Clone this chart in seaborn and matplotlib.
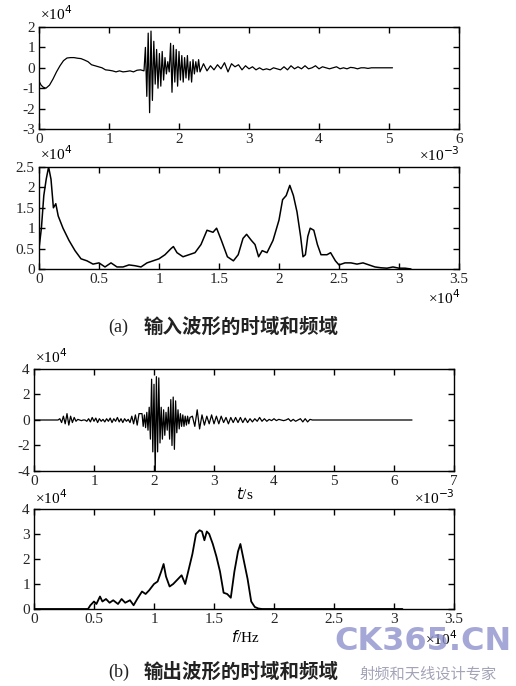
import numpy as np
import matplotlib
matplotlib.use("Agg")
import matplotlib.pyplot as plt
import seaborn as sns
from matplotlib.ticker import FuncFormatter

# ---- input waveform, time domain (x in 1e-3 s, y in 1e4) ----
in_t_head = [0.00, 0.03, 0.06, 0.10, 0.15, 0.20, 0.25, 0.30, 0.35, 0.40, 0.45, 0.50,
             0.55, 0.60, 0.65, 0.70, 0.75, 0.80, 0.85, 0.90, 0.95, 1.00, 1.05, 1.10,
             1.15, 1.20, 1.25, 1.30, 1.35, 1.40, 1.45, 1.50]
in_y_head = [-0.65, -0.85, -0.95, -1.0, -0.85, -0.55, -0.2, 0.1, 0.35, 0.48, 0.5, 0.5,
             0.47, 0.45, 0.38, 0.3, 0.15, 0.1, 0.05, 0.0, -0.1, -0.12, -0.15, -0.2,
             -0.15, -0.2, -0.18, -0.15, -0.2, -0.12, -0.1, -0.15]
in_burst_start, in_burst_step = 1.52, 0.02
in_y_burst = [1.0, -1.4, 1.7, -2.2, 1.8, -1.6, 1.3, -0.8, 0.9, -1.0, 0.7, -0.9, 0.8, -0.6,
              0.5, -0.3, 0.3, -0.2, 1.2, -1.2, 1.1, -0.7, 0.9, -0.9, 0.8, -0.6, 0.6, -0.7,
              0.5, -0.5, 0.6, -0.6, 0.3, -0.7, 0.4, -0.3, 0.3, -0.2, 0.4, -0.2]
in_tail_start, in_tail_step = 2.35, 0.05
in_y_tail = [0.2, -0.15, 0.1, -0.1, 0.15, -0.05, 0.25, -0.2, 0.2, 0.05, 0.15, -0.1, 0.1,
             -0.05, 0.05, -0.1, 0.0, -0.1, -0.05, -0.1, 0.0, -0.05, -0.1, 0.05, -0.1, 0.1,
             -0.05, 0.05, -0.05, 0.1, -0.05, 0.0, 0.1, -0.05, 0.05, 0.0, -0.05, 0.0, 0.05,
             -0.05, 0.0, -0.05, 0.02, 0.0, -0.05, 0.0, 0.0, -0.03, 0.0, 0.0, 0.0, 0.0, 0.0,
             0.0, 0.0]

# ---- input waveform, spectrum (x in 1e4 Hz, y in 1e4) ----
in_f = [0.0, 0.02, 0.04, 0.06, 0.08, 0.10, 0.12, 0.14, 0.16, 0.20, 0.25, 0.30, 0.35,
        0.40, 0.45, 0.50, 0.55, 0.60, 0.65, 0.70, 0.75, 0.80, 0.85, 0.90, 0.95, 1.00,
        1.05, 1.10, 1.12, 1.15, 1.20, 1.25, 1.30, 1.35, 1.40, 1.45, 1.48, 1.52, 1.57,
        1.62, 1.66, 1.70, 1.73, 1.77, 1.80, 1.83, 1.86, 1.90, 1.95, 2.00, 2.03, 2.06,
        2.09, 2.12, 2.15, 2.18, 2.20, 2.22, 2.24, 2.26, 2.29, 2.32, 2.35, 2.40, 2.43,
        2.47, 2.50, 2.55, 2.60, 2.65, 2.70, 2.75, 2.80, 2.85, 2.90, 2.95, 3.00, 3.05, 3.10]
in_mag = [0.5, 1.0, 1.8, 2.2, 2.5, 2.2, 1.5, 1.6, 1.3, 1.0, 0.7, 0.45, 0.25,
          0.2, 0.12, 0.15, 0.05, 0.15, 0.05, 0.05, 0.1, 0.08, 0.05, 0.15, 0.2, 0.25,
          0.35, 0.5, 0.55, 0.4, 0.3, 0.35, 0.4, 0.6, 0.95, 0.9, 1.0, 0.7, 0.3,
          0.2, 0.35, 0.75, 0.85, 0.7, 0.6, 0.3, 0.45, 0.4, 0.7, 1.2, 1.7, 1.8,
          2.05, 1.8, 1.4, 0.8, 0.3, 0.35, 0.8, 1.0, 0.95, 0.6, 0.35, 0.35, 0.4,
          0.2, 0.1, 0.15, 0.15, 0.12, 0.15, 0.1, 0.05, 0.03, 0.02, 0.05, 0.02, 0.02, 0.0]

# ---- output waveform, time domain ----
out_t_head = [0.0, 0.4]
out_y_head = [0.0, 0.0]
out_small_start, out_small_step = 0.43, 0.03
out_y_small = [0.1, -0.2, 0.3, -0.3, 0.5, -0.4, 0.3, -0.2, 0.2, -0.1, 0.05, 0.0, -0.05,
               0.0, 0.0, -0.1, 0.1, -0.15, 0.2, -0.1, 0.15, -0.2, 0.1, -0.1, 0.05, -0.15,
               0.1, -0.1, 0.15, -0.2, 0.1, -0.1, 0.2, -0.15, 0.1, -0.2, 0.1, -0.1, 0.05,
               -0.2, 0.3, -0.3, 0.4, -0.4, 0.5]
out_burst_start, out_burst_step = 1.8, 0.02
out_y_burst = [0.5, -0.5, 0.4, -0.6, 0.6, -0.8, 1.0, -1.5, 3.2, -2.5, 2.8, -4.2, 3.4, -2.5,
               3.3, -1.8, 1.0, -1.5, 0.8, -1.2, 0.6, -0.8, 1.0, -1.5, 1.6, -2.0, 1.8, -2.3,
               1.5, -1.0, 0.8, -0.7, 0.5, -0.5, 0.4, -0.5, 0.3, -0.4, 0.3, -0.3, 0.2]
out_tail_start, out_tail_step = 2.64, 0.04
out_y_tail = [0.3, -0.5, 0.8, -0.7, 0.4, -0.4, 0.3, -0.3, 0.4, -0.3, 0.3, -0.3, 0.3, -0.2,
              0.2, -0.3, 0.2, -0.2, 0.2, -0.2, 0.2, -0.2, 0.15, -0.2, 0.1, -0.15, 0.1, -0.1,
              0.2, -0.1, 0.1, -0.1, 0.05, -0.05, 0.1, -0.05, 0.05, 0.0, -0.05, 0.0, 0.1,
              -0.1, 0.05, -0.1, 0.0, 0.1, -0.15, 0.1, -0.15, 0.05, 0.0, 0.0, 0.0]
out_t_end = [6.3]
out_y_end = [0.0]

# ---- output waveform, spectrum ----
out_f = [0.0, 0.45, 0.47, 0.50, 0.52, 0.55, 0.57, 0.60, 0.63, 0.66, 0.70, 0.73, 0.76,
         0.80, 0.83, 0.86, 0.90, 0.93, 0.96, 1.00, 1.03, 1.06, 1.08, 1.10, 1.13, 1.16,
         1.20, 1.23, 1.26, 1.29, 1.32, 1.35, 1.38, 1.40, 1.42, 1.44, 1.46, 1.49, 1.52,
         1.55, 1.58, 1.61, 1.64, 1.67, 1.70, 1.72, 1.75, 1.78, 1.81, 1.84, 1.87, 1.90,
         2.50, 3.07]
out_mag = [0.0, 0.0, 0.15, 0.3, 0.2, 0.5, 0.3, 0.4, 0.25, 0.35, 0.2, 0.4, 0.25,
           0.35, 0.15, 0.4, 0.7, 0.6, 0.75, 1.0, 1.1, 1.5, 1.8, 1.3, 0.9, 1.0,
           1.2, 1.35, 1.0, 1.6, 2.2, 3.0, 3.15, 3.1, 2.75, 3.1, 3.0, 2.6, 2.1,
           1.5, 0.65, 0.6, 0.45, 1.5, 2.3, 2.6, 1.9, 1.2, 0.3, 0.08, 0.02, 0.0,
           0.0, 0.0]


def seg(start, step, ys):
    return [start + step * i for i in range(len(ys))]


in_t = in_t_head + seg(in_burst_start, in_burst_step, in_y_burst) + seg(in_tail_start, in_tail_step, in_y_tail)
in_y = in_y_head + in_y_burst + in_y_tail
out_t = (out_t_head + seg(out_small_start, out_small_step, out_y_small)
         + seg(out_burst_start, out_burst_step, out_y_burst)
         + seg(out_tail_start, out_tail_step, out_y_tail) + out_t_end)
out_y = out_y_head + out_y_small + out_y_burst + out_y_tail + out_y_end

sns.set_style("ticks")
plt.rcParams["font.family"] = ["Liberation Serif", "Noto Sans CJK SC"]
plt.rcParams["xtick.direction"] = "in"
plt.rcParams["ytick.direction"] = "in"

W, H = 516, 686
fig = plt.figure(figsize=(W / 100, H / 100), dpi=100)


def ax_at(left, top, right, bottom):
    return fig.add_axes([left / W, 1 - bottom / H, (right - left) / W, (bottom - top) / H])


fmt = FuncFormatter(lambda v, p: f"{v:g}")
TS = 11


def style(ax, xlim, xticks, ylim, yticks):
    ax.set_xlim(*xlim)
    ax.set_ylim(*ylim)
    ax.set_xticks(xticks)
    ax.set_yticks(yticks)
    ax.xaxis.set_major_formatter(fmt)
    ax.yaxis.set_major_formatter(fmt)
    ax.tick_params(top=True, right=True, length=4, width=1, labelsize=TS, color="black")
    ax.tick_params(axis="x", pad=3)
    ax.tick_params(axis="y", pad=3)
    for s in ax.spines.values():
        s.set_visible(True)
        s.set_linewidth(1.0)
        s.set_color("black")
    ax.set_xlabel("")
    ax.set_ylabel("")


lw = 0.9
ax1 = ax_at(39, 27, 459, 129)
sns.lineplot(x=in_t, y=in_y, ax=ax1, color="black", linewidth=lw, sort=False, estimator=None)
style(ax1, (0, 6), [0, 1, 2, 3, 4, 5, 6], (-3, 2), [-3, -2, -1, 0, 1, 2])

ax2 = ax_at(39, 167, 459, 269)
sns.lineplot(x=in_f, y=in_mag, ax=ax2, color="black", linewidth=1.1, sort=False, estimator=None)
style(ax2, (0, 3.5), [0, 0.5, 1, 1.5, 2, 2.5, 3, 3.5], (0, 2.5), [0, 0.5, 1, 1.5, 2, 2.5])

ax3 = ax_at(34, 369, 454, 471)
sns.lineplot(x=out_t, y=out_y, ax=ax3, color="black", linewidth=lw, sort=False, estimator=None)
style(ax3, (0, 7), [0, 1, 2, 3, 4, 5, 6, 7], (-4, 4), [-4, -2, 0, 2, 4])

ax4 = ax_at(34, 509, 454, 609)
sns.lineplot(x=out_f, y=out_mag, ax=ax4, color="black", linewidth=1.3, sort=False, estimator=None)
style(ax4, (0, 3.5), [0, 0.5, 1, 1.5, 2, 2.5, 3, 3.5], (0, 4), [0, 1, 2, 3, 4])


def ftext(x, y, s, **kw):
    fig.text(x / W, 1 - y / H, s, **kw)


exp_kw = dict(fontsize=TS, color="black", va="center")
ftext(40, 14, "×10$^{4}$", ha="left", **exp_kw)
ftext(460, 155, "×10$^{-3}$", ha="right", **exp_kw)
ftext(40, 154, "×10$^{4}$", ha="left", **exp_kw)
ftext(460, 298, "×10$^{4}$", ha="right", **exp_kw)
ftext(35, 357, "×10$^{4}$", ha="left", **exp_kw)
ftext(455, 498, "×10$^{-3}$", ha="right", **exp_kw)
ftext(35, 498, "×10$^{4}$", ha="left", **exp_kw)
ftext(457, 639, "×10$^{4}$", ha="right", **exp_kw)
ftext(245, 494, "$t$/s", ha="center", **exp_kw)
ftext(245, 637, "$f$/Hz", ha="center", **exp_kw)

cap_kw = dict(color="#222222", va="center")
ftext(108, 327, "(a)", ha="left", fontsize=13, **cap_kw)
ftext(143, 327, "输入波形的时域和频域", ha="left", fontsize=14, family=["Noto Sans CJK SC"],
      fontweight="bold", **cap_kw)
ftext(108, 672, "(b)", ha="left", fontsize=13, **cap_kw)
ftext(143, 672, "输出波形的时域和频域", ha="left", fontsize=14, family=["Noto Sans CJK SC"],
      fontweight="bold", **cap_kw)

# watermark
ftext(423, 642, "CK365.CN", ha="center", fontsize=23, fontweight="bold", family=["DejaVu Sans"],
      color="#8f93cc", alpha=0.8, va="center")
ftext(428, 674, "射频和天线设计专家", ha="center", fontsize=11, family=["Noto Sans CJK SC"],
      color="#a4a4b8", va="center")

fig.savefig("out.png", dpi=100)
